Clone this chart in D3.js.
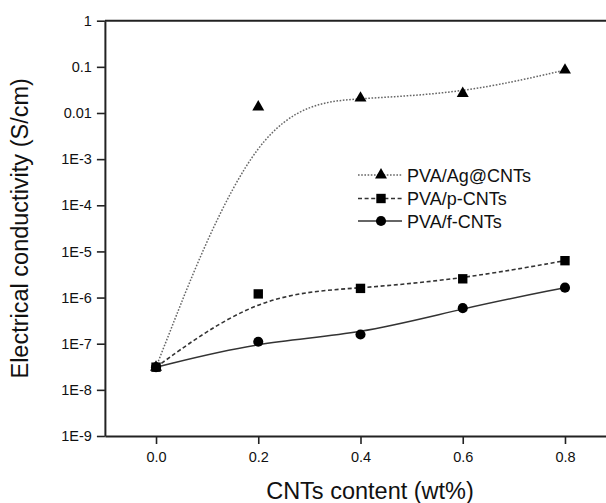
<!DOCTYPE html>
<html>
<head>
<meta charset="utf-8">
<script src="https://cdn.jsdelivr.net/npm/d3@7"></script>
<style>
  html, body { margin: 0; padding: 0; background: #fff; }
  svg { display: block; }
  text { font-family: "Liberation Sans", Arial, Helvetica, sans-serif; fill: #111; }
</style>
</head>
<body>
<svg id="chart" width="606" height="503"></svg>
<script>
// ---- data ----
const contents = [0.0, 0.2, 0.4, 0.6, 0.8];
const agCNTs = [3.1e-8, 1.35e-2, 2.1e-2, 2.65e-2, 8.5e-2];
const pCNTs  = [3.1e-8, 1.2e-6, 1.58e-6, 2.55e-6, 6.3e-6];
const fCNTs  = [3.1e-8, 1.1e-7, 1.58e-7, 5.9e-7, 1.64e-6];
const seriesNames = ["PVA/Ag@CNTs", "PVA/p-CNTs", "PVA/f-CNTs"];
const xTicks = [0.0, 0.2, 0.4, 0.6, 0.8];
const xTickLabels = ["0.0", "0.2", "0.4", "0.6", "0.8"];
const yTicks = [1e-9, 1e-8, 1e-7, 1e-6, 1e-5, 1e-4, 1e-3, 1e-2, 1e-1, 1];
const yTickLabels = ["1E-9", "1E-8", "1E-7", "1E-6", "1E-5", "1E-4", "1E-3", "0.01", "0.1", "1"];

const svg = d3.select("#chart");
const x = d3.scaleLinear().domain([-0.1, 0.9]).range([104.9, 616.1]);
const y = d3.scaleLog().domain([1e-9, 1]).range([436, 20.7]);

const styles = [
  { values: agCNTs, symbol: d3.symbolTriangle, size: 62, dash: "1.6,1.6", stroke: "#666", width: 1.5 },
  { values: pCNTs,  symbol: d3.symbolSquare,   size: 88, dash: "4,2.6",   stroke: "#333", width: 1.6 },
  { values: fCNTs,  symbol: d3.symbolCircle,   size: 80, dash: null,      stroke: "#333", width: 1.5 }
];

// frame top line
svg.append("line")
  .attr("x1", x(-0.1)).attr("x2", x(0.9))
  .attr("y1", y(1)).attr("y2", y(1))
  .attr("stroke", "#222").attr("stroke-width", 2);

// axes
const yAxis = d3.axisLeft(y).tickValues(yTicks)
  .tickFormat((d, i) => yTickLabels[i]).tickSize(8).tickSizeOuter(0).tickPadding(5);
const gy = svg.append("g").attr("transform", `translate(${x(-0.1)},0)`).call(yAxis);
const xAxis = d3.axisBottom(x).tickValues(xTicks)
  .tickFormat((d, i) => xTickLabels[i]).tickSize(8).tickSizeOuter(0).tickPadding(8);
const gx = svg.append("g").attr("transform", `translate(0,${y(1e-9)})`).call(xAxis);
[gx, gy].forEach(g => {
  g.select(".domain").attr("stroke", "#222").attr("stroke-width", 2);
  g.selectAll(".tick line").attr("stroke", "#222").attr("stroke-width", 1.6);
  g.selectAll(".tick text").attr("font-size", 14.5).attr("fill", "#111")
    .attr("font-family", '"Liberation Sans", Arial, sans-serif');
});

// curves
const line = d3.line().x((d, i) => x(contents[i])).y(d => y(d)).curve(d3.curveBasis);
styles.forEach(s => {
  svg.append("path").datum(s.values)
    .attr("d", line)
    .attr("fill", "none")
    .attr("stroke", s.stroke)
    .attr("stroke-width", s.width)
    .attr("stroke-dasharray", s.dash);
});

// markers
styles.forEach(s => {
  svg.append("g").selectAll("path").data(s.values).join("path")
    .attr("d", d3.symbol().type(s.symbol).size(s.size))
    .attr("transform", (d, i) => `translate(${x(contents[i])},${y(d)})`)
    .attr("fill", "#000");
});

// legend
const legY = [175, 198.5, 221];
styles.forEach((s, i) => {
  const g = svg.append("g").attr("transform", `translate(0,${legY[i]})`);
  g.append("line").attr("x1", 358).attr("x2", 402).attr("y1", 0).attr("y2", 0)
    .attr("stroke", s.stroke).attr("stroke-width", s.width).attr("stroke-dasharray", s.dash);
  g.append("path").attr("d", d3.symbol().type(s.symbol).size(s.size))
    .attr("transform", "translate(381,0)").attr("fill", "#000");
  g.append("text").attr("x", 407).attr("y", 6.5).attr("font-size", 18).text(seriesNames[i]);
});

// axis titles
svg.append("text")
  .attr("x", 370).attr("y", 499).attr("text-anchor", "middle")
  .attr("font-size", 23.5).text("CNTs content (wt%)");
svg.append("text")
  .attr("transform", `translate(28,${(y(1) + y(1e-9)) / 2}) rotate(-90)`)
  .attr("text-anchor", "middle").attr("font-size", 23.5)
  .text("Electrical conductivity (S/cm)");
</script>
</body>
</html>
